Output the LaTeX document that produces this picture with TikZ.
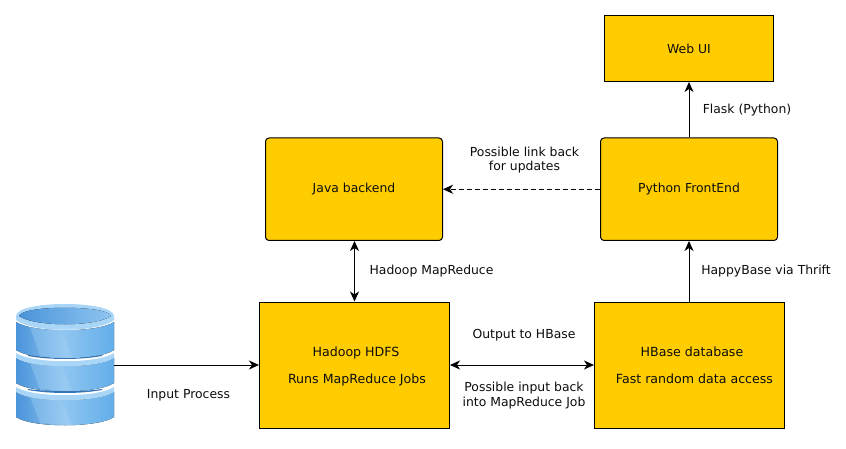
\documentclass[tikz,border=0pt]{standalone}
\usepackage{fontspec}
\setmainfont{DejaVu Sans}
\usetikzlibrary{arrows.meta}
\definecolor{amber}{HTML}{FFCC00}
\definecolor{dbA}{HTML}{4A94DA}
\definecolor{dbB}{HTML}{8FC5F0}
\definecolor{dbC}{HTML}{A9D5F6}
\definecolor{dbD}{HTML}{3478BC}
\definecolor{dbE}{HTML}{62AEEA}
\tikzset{
 x=1pt,y=-1pt,
 every node/.style={font=\fontsize{12.4}{14.5}\selectfont,text=black!95},
 sqbox/.style={draw=black,line width=1pt,fill=amber,anchor=north west,inner sep=0pt,align=center},
 rdbox/.style={sqbox,rounded corners=3.5pt},
 txt/.style={inner sep=0pt,align=center,font=\fontsize{12.6}{14.5}\selectfont},
 lbl/.style={align=center,inner sep=0pt},
 link/.style={line width=1pt,-{Stealth[length=10pt,width=9pt,inset=3pt]}},
 bilink/.style={line width=1pt,{Stealth[length=10pt,width=9pt,inset=3pt]}-{Stealth[length=10pt,width=9pt,inset=3pt]}},
 dashlink/.style={link,dash pattern=on 5pt off 3pt},
}
\newcommand{\dbdisk}[2]{% side top y, side bottom y
 \fill[left color=dbA,right color=dbE,middle color=dbB] (16,#1) -- (16,#2)
   .. controls (32,#2+11) and (98,#2+11) .. (114,#2) -- (114,#1)
   .. controls (98,#1+11) and (32,#1+11) .. (16,#1) -- cycle;
 \fill[dbC,opacity=.35] (30,#1+5) -- (62,#1+8) -- (72,#2+8) -- (40,#2+6) -- cycle;
}
\newcommand{\dbband}[1]{% light band below a gap, side top y
 \fill[dbC] (16,#1) .. controls (32,#1+11) and (98,#1+11) .. (114,#1) -- (114,#1+5)
   .. controls (98,#1+16) and (32,#1+16) .. (16,#1+5) -- cycle;
 \fill[dbD] (28,#1+3) .. controls (50,#1+7) and (80,#1+7) .. (102,#1+3) -- (102,#1+2)
   .. controls (80,#1+5) and (50,#1+5) .. (28,#1+2) -- cycle;
}
\begin{document}
\begin{tikzpicture}
\useasboundingbox (0,0) rectangle (846,449);
\fill[white] (0,0) rectangle (846,449);
% database drum
\node[minimum width=98pt,minimum height=122pt,inner sep=0pt] (db) at (65,365) {};
\dbdisk{392}{417}
\dbband{387}
\dbdisk{358}{383}
\dbband{353}
\dbdisk{322}{350}
\fill[dbC] (16,316) .. controls (16,300) and (114,300) .. (114,316) -- (114,320) .. controls (98,333) and (32,333) .. (16,320) -- cycle;
\fill[left color=dbA,right color=dbB] (19,316) .. controls (22,305) and (108,305) .. (111,316) .. controls (95,327) and (35,327) .. (19,316) -- cycle;
% boxes
\node[sqbox,minimum width=169pt,minimum height=66pt] (web) at (604,15) {Web UI};
\node[rdbox,minimum width=177pt,minimum height=102.5pt] (py) at (600,137.5) {Python FrontEnd};
\node[rdbox,minimum width=177pt,minimum height=102.5pt] (java) at (265,137.5) {Java backend};
\node[sqbox,minimum width=190pt,minimum height=126.5pt] (hdfs) at (259,301.5) {};
\node[sqbox,minimum width=190pt,minimum height=126.5pt] (hbase) at (594,301.5) {};
\node[txt] (hdfsA) at (356,353.5) {\strut Hadoop HDFS};
\node[txt] (hdfsB) at (357,381) {\strut Runs MapReduce Jobs};
\node[txt] (hbaseA) at (692,353.5) {\strut HBase database};
\node[txt] (hbaseB) at (694.5,381) {\strut Fast random data access};
% connectors
\draw[link] (db.east) -- (hdfs.west |- db.east);
\draw[bilink] (hdfs.east |- db.east) -- (hbase.west |- db.east);
\draw[bilink] (java.south -| 354.5,0) -- (hdfs.north -| 354.5,0);
\draw[link] (py.south |- hbase.north) -- (py.south);
\draw[link] (py.north) -- (py.north |- web.south);
\draw[dashlink] (py.west) -- (java.east);
% labels
\node[lbl] (l1) at (188.5,395.5) {\strut Input Process};
\node[lbl] (l2) at (431.5,272) {\strut Hadoop MapReduce};
\node[lbl] (l3) at (524,336) {\strut Output to HBase};
\node[lbl] (l4) at (524,396) {\strut Possible input back\\\strut into MapReduce Job};
\node[lbl] (l5) at (766,272) {\strut HappyBase via Thrift};
\node[lbl] (l6) at (747,111) {\strut Flask (Python)};
\node[lbl] (l7) at (524.5,160.5) {\strut Possible link back\\\strut for updates};
\end{tikzpicture}
\end{document}
